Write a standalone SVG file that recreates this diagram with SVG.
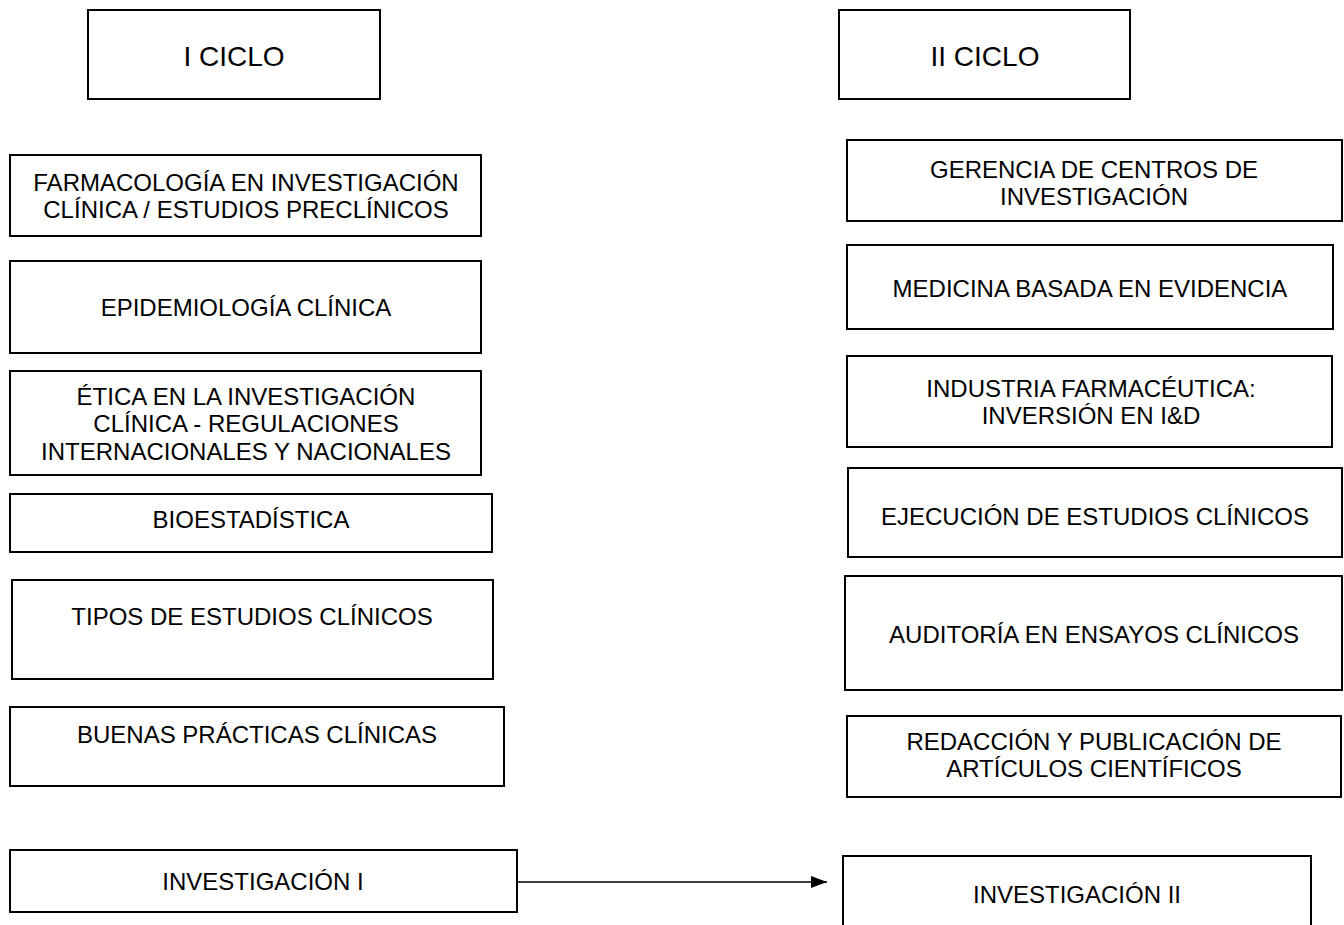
<svg xmlns="http://www.w3.org/2000/svg" width="1344" height="925" viewBox="0 0 1344 925">
<style>
.box{fill:#fff;stroke:#000;stroke-width:2}
text{font-family:"Liberation Sans",Arial,sans-serif;font-size:24px;fill:#000;text-anchor:middle}
.title{font-size:28px}
.conn{stroke:#000;stroke-width:1.5;fill:none}
</style>
<defs>
<marker id="arr" markerWidth="16" markerHeight="12" refX="16" refY="6" orient="auto" markerUnits="userSpaceOnUse">
<path d="M0,0 L16,6 L0,12 Z" fill="#000"/>
</marker>
</defs>
<rect width="1344" height="925" fill="#fff"/>
<g id="ciclo1"><rect class="box" x="88" y="10" width="292" height="89"/><text class="title" x="234" y="66">I CICLO</text></g>
<g id="ciclo2"><rect class="box" x="839" y="10" width="291" height="89"/><text class="title" x="985" y="66">II CICLO</text></g>

<g id="farmacologia"><rect class="box" x="10" y="155" width="471" height="81"/><text x="246" y="191">FARMACOLOGÍA EN INVESTIGACIÓN</text><text x="246" y="218">CLÍNICA / ESTUDIOS PRECLÍNICOS</text></g>
<g id="epidemiologia"><rect class="box" x="10" y="261" width="471" height="92"/><text x="246" y="316">EPIDEMIOLOGÍA CLÍNICA</text></g>
<g id="etica"><rect class="box" x="10" y="371" width="471" height="104"/><text x="246" y="405">ÉTICA EN LA INVESTIGACIÓN</text><text x="246" y="432">CLÍNICA - REGULACIONES</text><text x="246" y="460">INTERNACIONALES Y NACIONALES</text></g>
<g id="bioestadistica"><rect class="box" x="10" y="494" width="482" height="58"/><text x="251" y="528">BIOESTADÍSTICA</text></g>
<g id="tipos"><rect class="box" x="12" y="580" width="481" height="99"/><text x="252" y="625">TIPOS DE ESTUDIOS CLÍNICOS</text></g>
<g id="buenas"><rect class="box" x="10" y="707" width="494" height="79"/><text x="257" y="743">BUENAS PRÁCTICAS CLÍNICAS</text></g>
<g id="investigacion1"><rect class="box" x="10" y="850" width="507" height="62"/><text x="263" y="890">INVESTIGACIÓN I</text></g>

<g id="gerencia"><rect class="box" x="847" y="140" width="495" height="81"/><text x="1094" y="178">GERENCIA DE CENTROS DE</text><text x="1094" y="205">INVESTIGACIÓN</text></g>
<g id="medicina"><rect class="box" x="847" y="245" width="486" height="84"/><text x="1090" y="297">MEDICINA BASADA EN EVIDENCIA</text></g>
<g id="industria"><rect class="box" x="847" y="356" width="485" height="91"/><text x="1091" y="397">INDUSTRIA FARMACÉUTICA:</text><text x="1091" y="424">INVERSIÓN EN I&amp;D</text></g>
<g id="ejecucion"><rect class="box" x="848" y="468" width="494" height="89"/><text x="1095" y="525">EJECUCIÓN DE ESTUDIOS CLÍNICOS</text></g>
<g id="auditoria"><rect class="box" x="845" y="576" width="497" height="114"/><text x="1094" y="643">AUDITORÍA EN ENSAYOS CLÍNICOS</text></g>
<g id="redaccion"><rect class="box" x="847" y="716" width="494" height="81"/><text x="1094" y="750">REDACCIÓN Y PUBLICACIÓN DE</text><text x="1094" y="777">ARTÍCULOS CIENTÍFICOS</text></g>
<g id="investigacion2"><rect class="box" x="843" y="856" width="468" height="80"/><text x="1077" y="903">INVESTIGACIÓN II</text></g>

<g id="connectors"><line class="conn" x1="517" y1="882" x2="827" y2="882" marker-end="url(#arr)"/></g>
</svg>
